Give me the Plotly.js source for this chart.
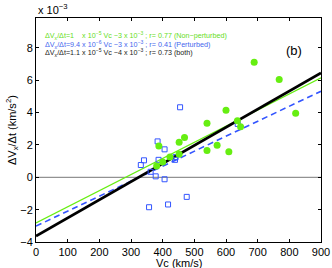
<!DOCTYPE html>
<html><head><meta charset="utf-8">
<script src="https://cdn.plot.ly/plotly-3.0.1.min.js"></script>
<style>html,body{margin:0;padding:0;background:#fff}#c{width:332px;height:268px}</style>
</head><body><div id="c"></div>
<script>
// Values in units of 1e-3 km/s^2
var greenVc = [381,388,400,423,452,452,469,540,540,572,609,600,636,646,689,768,820];
var greenDV = [0.70,1.94,0.95,1.25,1.43,2.16,2.46,3.35,1.65,1.98,1.58,4.15,3.50,3.12,7.11,6.04,3.96];
var blueVc = [455,384,406,341,331,387,441,439,362,378,406,476,417,357,637];
var blueDV = [4.33,2.22,1.73,1.05,0.76,1.08,1.25,1.08,0.34,0.06,-0.12,-1.21,-1.68,-1.85,3.30];
var fitVc = [0,900];
var greenFit = [-2.82,6.15];
var blueFit = [-3.02,5.32];
var blackFit = [-3.63,6.45];
var zeroVc = [0,900];
var zeroDV = [0,0];
var xTicks = [0,100,200,300,400,500,600,700,800,900];
var yTicks = [-4,-2,0,2,4,6,8];

var GREEN = '#66ee11', BLUE = '#3355ff';
var traces = [
  {x:zeroVc,y:zeroDV,mode:'lines',line:{color:'#777777',width:1},hoverinfo:'skip'},
  {x:fitVc,y:greenFit,mode:'lines',line:{color:GREEN,width:1.2}},
  {x:fitVc,y:blueFit,mode:'lines',line:{color:BLUE,width:1.6,dash:'6px,4px'}},
  {x:fitVc,y:blackFit,mode:'lines',line:{color:'#000000',width:2.8}},
  {x:blueVc,y:blueDV,mode:'markers',marker:{symbol:'square-open',size:5,color:BLUE,line:{width:1,color:BLUE}}},
  {x:greenVc,y:greenDV,mode:'markers',marker:{symbol:'circle',size:7,color:GREEN}}
];
var F = 'Liberation Sans, Arial, sans-serif';
var layout = {
  width:332,height:268,
  margin:{l:36,r:11,t:18,b:26},
  paper_bgcolor:'#fff',plot_bgcolor:'#fff',
  showlegend:false,
  font:{family:F,size:11,color:'#000'},
  xaxis:{range:[0,900],tickvals:xTicks,ticktext:xTicks.map(String),ticks:'inside',ticklen:3,tickcolor:'#000',
    showline:true,linecolor:'#000',linewidth:1,mirror:'allticks',showgrid:false,zeroline:false,
    tickfont:{family:F,size:11}},
  yaxis:{range:[-4,9.85],tickvals:yTicks,ticktext:yTicks.map(function(v){return v<0?'\u2212'+(-v):String(v);}),ticks:'inside',ticklen:3,tickcolor:'#000',
    showline:true,linecolor:'#000',linewidth:1,mirror:'allticks',showgrid:false,zeroline:false,
    tickfont:{family:F,size:11}},
  annotations:[
    {xref:'paper',yref:'paper',x:0.0,y:1.0,xanchor:'left',yanchor:'bottom',yshift:0,
     text:'x 10<sup>\u22123</sup>',showarrow:false,font:{family:F,size:11}},
    {xref:'paper',yref:'paper',x:-0.084,y:0.5,textangle:-90,xanchor:'center',yanchor:'middle',
     text:'\u0394V<sub>x</sub>/\u0394t (km/s<sup>2</sup>)',showarrow:false,font:{family:F,size:11}},
    {xref:'paper',yref:'paper',x:0.5,y:0,yshift:-13,xanchor:'center',yanchor:'top',
     text:'Vc (km/s)',showarrow:false,font:{family:F,size:11}},
    {xref:'paper',yref:'paper',x:0.025,y:0.92,xanchor:'left',yanchor:'middle',
     text:'\u0394V<sub>x</sub>/\u0394t=1    x 10<sup>\u22125</sup> Vc \u22123 x 10<sup>\u22123</sup> ; r= 0.77 (Non\u2212perturbed)',
     showarrow:false,font:{family:F,size:7.2,color:'#66dd22'}},
    {xref:'paper',yref:'paper',x:0.025,y:0.882,xanchor:'left',yanchor:'middle',
     text:'\u0394V<sub>x</sub>/\u0394t=9.4 x 10<sup>\u22126</sup> Vc \u22123 x 10<sup>\u22123</sup> ; r= 0.41 (Perturbed)',
     showarrow:false,font:{family:F,size:7.2,color:'#4466ee'}},
    {xref:'paper',yref:'paper',x:0.025,y:0.844,xanchor:'left',yanchor:'middle',
     text:'\u0394V<sub>x</sub>/\u0394t=1.1 x 10<sup>\u22125</sup> Vc \u22124 x 10<sup>\u22123</sup> ; r= 0.73 (both)',
     showarrow:false,font:{family:F,size:7.2,color:'#222'}},
    {xref:'paper',yref:'paper',x:0.942,y:0.853,xanchor:'right',yanchor:'middle',
     text:'(b)',showarrow:false,font:{family:F,size:13}}
  ]
};
Plotly.newPlot('c',traces,layout,{staticPlot:true});
</script></body></html>
